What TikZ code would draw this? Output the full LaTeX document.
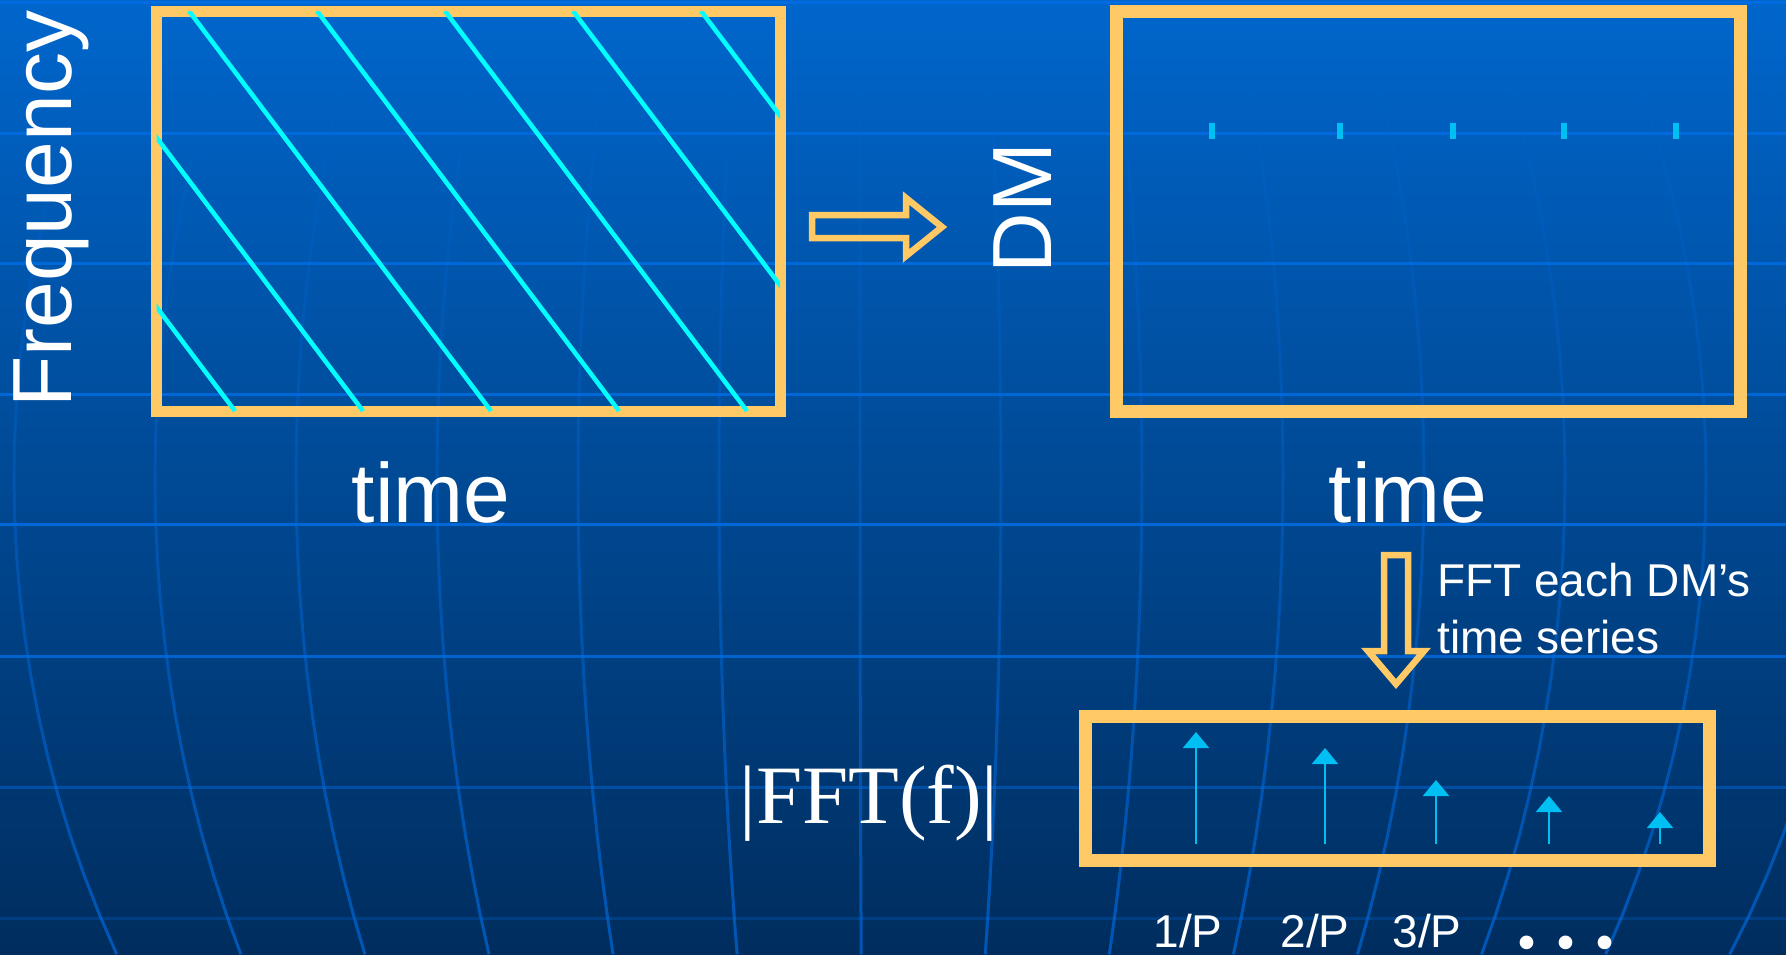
\documentclass[tikz,border=0pt]{standalone}
\usepackage{fontspec}
\setmainfont{Liberation Sans}
\newfontfamily\serifface{Liberation Serif}
\usepackage{xcolor}
\definecolor{bgtop}{HTML}{0066CC}
\definecolor{bgmid}{HTML}{004D9C}
\definecolor{bgbot}{HTML}{002D5E}
\definecolor{gridblue}{HTML}{006EE6}
\definecolor{frame}{HTML}{FFC966}
\definecolor{sweep}{HTML}{00FFFF}
\definecolor{pulse}{HTML}{00BFF2}
\usepackage{tikz}
\usetikzlibrary{arrows.meta, positioning, calc, fadings}

\begin{document}
\begin{tikzpicture}[
  x=1pt, y=-1pt,
  every node/.style={text=white, inner sep=0pt},
  panel/.style={draw=frame, minimum width=624pt},
  bigtext/.style={font=\fontsize{84}{100}\selectfont},
  smalltext/.style={font=\fontsize{46}{55}\selectfont},
  hollow/.style={draw=frame, line width=6.5pt},
  bgrule/.style={gridblue, line width=3pt},
  spike/.style={pulse, line width=2pt, -{Triangle[width=26pt, length=16pt]}}
]
  \useasboundingbox (0,0) rectangle (1786,954);
  % background with the bent grid
  \shade[top color=bgtop, middle color=bgmid, bottom color=bgbot] (0,0) rectangle (1786,954);
  \begin{scope}
    \clip (0,0) rectangle (1786,954);
    \foreach \hy/\op in {2/0.8, 133/0.8, 263/0.8, 394/0.8, 524/0.85, 656/0.75, 787/0.45, 918/0.25}
      \draw[bgrule, opacity=\op] (0,\hy) -- (1786,\hy);
    \foreach \k in {-1,...,13}
      \draw[bgrule, opacity=0.65, path fading=north] plot[domain=0:954, samples=25, variable=\t]
        ({870+(14+141*\k-870)*sqrt(1-((\t-477)/1004)^2)}, {\t});
  \end{scope}

  % the three panels
  \node[panel, line width=11pt, minimum height=400pt] (spec) at (468,211) {};
  \node[panel, line width=13pt, minimum height=400pt] (dedisp) at (1428.5,211) {};
  \node[panel, line width=13pt, minimum height=144pt] (power) at (1397,788) {};

  % dispersed pulses
  \begin{scope}
    \clip (156.5,11) rectangle (780,411);
    \foreach \k in {-2,...,4}
      \draw[sweep, line width=4.5pt] ({189+128*\k},11) -- ({491+128*\k},411);
  \end{scope}

  % dedispersed pulses
  \foreach \tx in {1212,1340,1453,1564,1676}
    \draw[pulse, line width=5.5pt] (\tx,123) -- (\tx,139);

  % harmonics
  \foreach \px/\py in {1196/732, 1325/748, 1436/780, 1549/796, 1660/812}
    \draw[spike] (\px,844) -- (\px,\py);

  % block arrows
  \draw[hollow] (812,215) -- (906,215) -- (906,198) -- (942,227) -- (906,256)
    -- (906,238) -- (812,238) -- cycle;
  \draw[hollow] (1384,555) -- (1408,555) -- (1408,651) -- (1424,651) -- (1396,684)
    -- (1368,651) -- (1384,651) -- cycle;

  % labels
  \node[bigtext, rotate=90, anchor=base west] (freq) at (71,408) {Frequency};
  \node[bigtext, rotate=90, anchor=base] (dm) at (1051,208) {DM};
  \node[bigtext, anchor=base] (ltime) at (431,522) {time};
  \node[bigtext, anchor=base] (rtime) at (1408,522) {time};
  \node[font=\serifface\fontsize{83}{100}\selectfont, anchor=base] (fftf) at (869,823) {|FFT(f)|};
  \node[smalltext, anchor=base west] (note) at (1437,596) {FFT each DM’s};
  \node[smalltext, anchor=base west] (notetwo) at (1437,653) {time series};
  \foreach \lx/\lt in {1188/1, 1315/2, 1427/3}
    \node[smalltext, anchor=base] (harm\lt) at (\lx,947) {\lt/P};
  \node[font=\serifface\bfseries\fontsize{84}{100}\selectfont, anchor=base] (dots)
    at (1566,948) {.\kern18pt.\kern18pt.};
\end{tikzpicture}
\end{document}
